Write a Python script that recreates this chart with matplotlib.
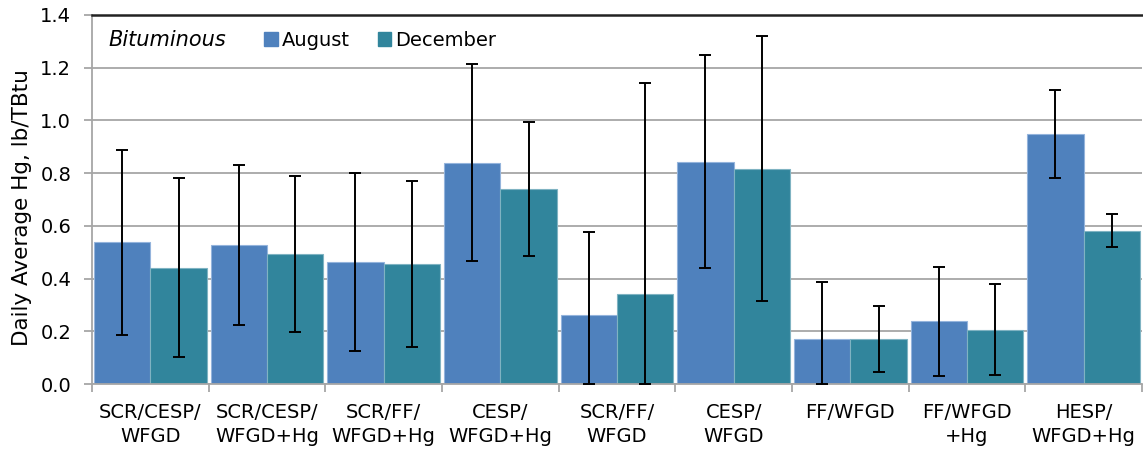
"""Daily average Hg by control configuration, bituminous units: August vs December."""

import numpy as np
import matplotlib

matplotlib.use("Agg")
import matplotlib.pyplot as plt
from matplotlib.patches import Patch

categories = [
    "SCR/CESP/\nWFGD", "SCR/CESP/\nWFGD+Hg", "SCR/FF/\nWFGD+Hg", "CESP/\nWFGD+Hg",
    "SCR/FF/\nWFGD", "CESP/\nWFGD", "FF/WFGD\n", "FF/WFGD\n+Hg", "HESP/\nWFGD+Hg",
]
august = [0.54, 0.527, 0.463, 0.838, 0.262, 0.843, 0.170, 0.239, 0.948]
august_low = [0.186, 0.223, 0.125, 0.465, 0.0, 0.44, 0.0, 0.030, 0.780]
august_high = [0.888, 0.832, 0.80, 1.213, 0.577, 1.248, 0.387, 0.444, 1.117]
december = [0.441, 0.493, 0.454, 0.738, 0.340, 0.816, 0.171, 0.206, 0.582]
december_low = [0.104, 0.197, 0.140, 0.486, 0.0, 0.314, 0.046, 0.034, 0.521]
december_high = [0.783, 0.79, 0.769, 0.994, 1.142, 1.321, 0.297, 0.379, 0.644]

AUG_COLOR = "#4F81BD"
DEC_COLOR = "#31859C"
GRID = "#A6A6A6"

plt.rcParams["font.family"] = ["DejaVu Sans"]

fig = plt.figure(figsize=(11.43, 4.53), dpi=100)
ax = fig.add_axes([92 / 1143, 1 - 384 / 453, 1050 / 1143, 369 / 453])

x = np.arange(len(categories))
w = 0.483
aug = np.array(august)
dec = np.array(december)
aug_err = [aug - np.array(august_low), np.array(august_high) - aug]
dec_err = [dec - np.array(december_low), np.array(december_high) - dec]

ax.bar(x - w / 2, aug, w, color=AUG_COLOR, edgecolor="#94B4DC", linewidth=0.8, zorder=2)
ax.bar(x + w / 2, dec, w, color=DEC_COLOR, edgecolor="#7FB3C2", linewidth=0.8, zorder=2)
ax.errorbar(x - w / 2, aug, yerr=aug_err, fmt="none", ecolor="black",
            elinewidth=1.4, capsize=4, capthick=1.4, zorder=3)
ax.errorbar(x + w / 2, dec, yerr=dec_err, fmt="none", ecolor="black",
            elinewidth=1.4, capsize=4, capthick=1.4, zorder=3)

ax.set_xlim(-0.5, len(categories) - 0.5)
ax.set_ylim(0, 1.4)
ax.set_yticks(np.arange(0, 1.41, 0.2))
ax.set_yticklabels([f"{v:.1f}" for v in np.arange(0, 1.41, 0.2)], fontsize=14)
ax.yaxis.grid(True, color=GRID, linewidth=1.3, zorder=0)
ax.set_axisbelow(True)

ax.set_xticks(x)
ax.set_xticklabels(categories, fontsize=14, linespacing=1.32)
ax.set_xticks(np.arange(-0.5, len(categories)), minor=True)
ax.tick_params(axis="x", which="major", length=0, pad=14)
ax.tick_params(axis="x", which="minor", length=6, color=GRID, width=1.3)
ax.tick_params(axis="y", length=6, color=GRID, width=1.3, pad=9)

ax.set_ylabel("Daily Average Hg, lb/TBtu", fontsize=15.5)
ax.yaxis.set_label_coords(-60 / 1050, 0.477)

for side in ("left", "bottom"):
    ax.spines[side].set_color(GRID)
    ax.spines[side].set_linewidth(1.3)
ax.spines["top"].set_color("#222222")
ax.spines["top"].set_linewidth(1.8)
ax.spines["right"].set_visible(False)

ax.text(16 / 1050, 1 - 25 / 369, "Bituminous", transform=ax.transAxes, fontsize=15,
        style="italic", va="center", ha="left")
handles = [Patch(color=AUG_COLOR, label="August"), Patch(color=DEC_COLOR, label="December")]
ax.legend(handles=handles, loc="upper left", bbox_to_anchor=(172 / 1050, 1 - 16 / 369),
          ncol=2, frameon=False, fontsize=14, handlelength=0.7, handleheight=0.7,
          handletextpad=0.2, columnspacing=1.45, borderpad=0, borderaxespad=0)

fig.savefig("out.png")
